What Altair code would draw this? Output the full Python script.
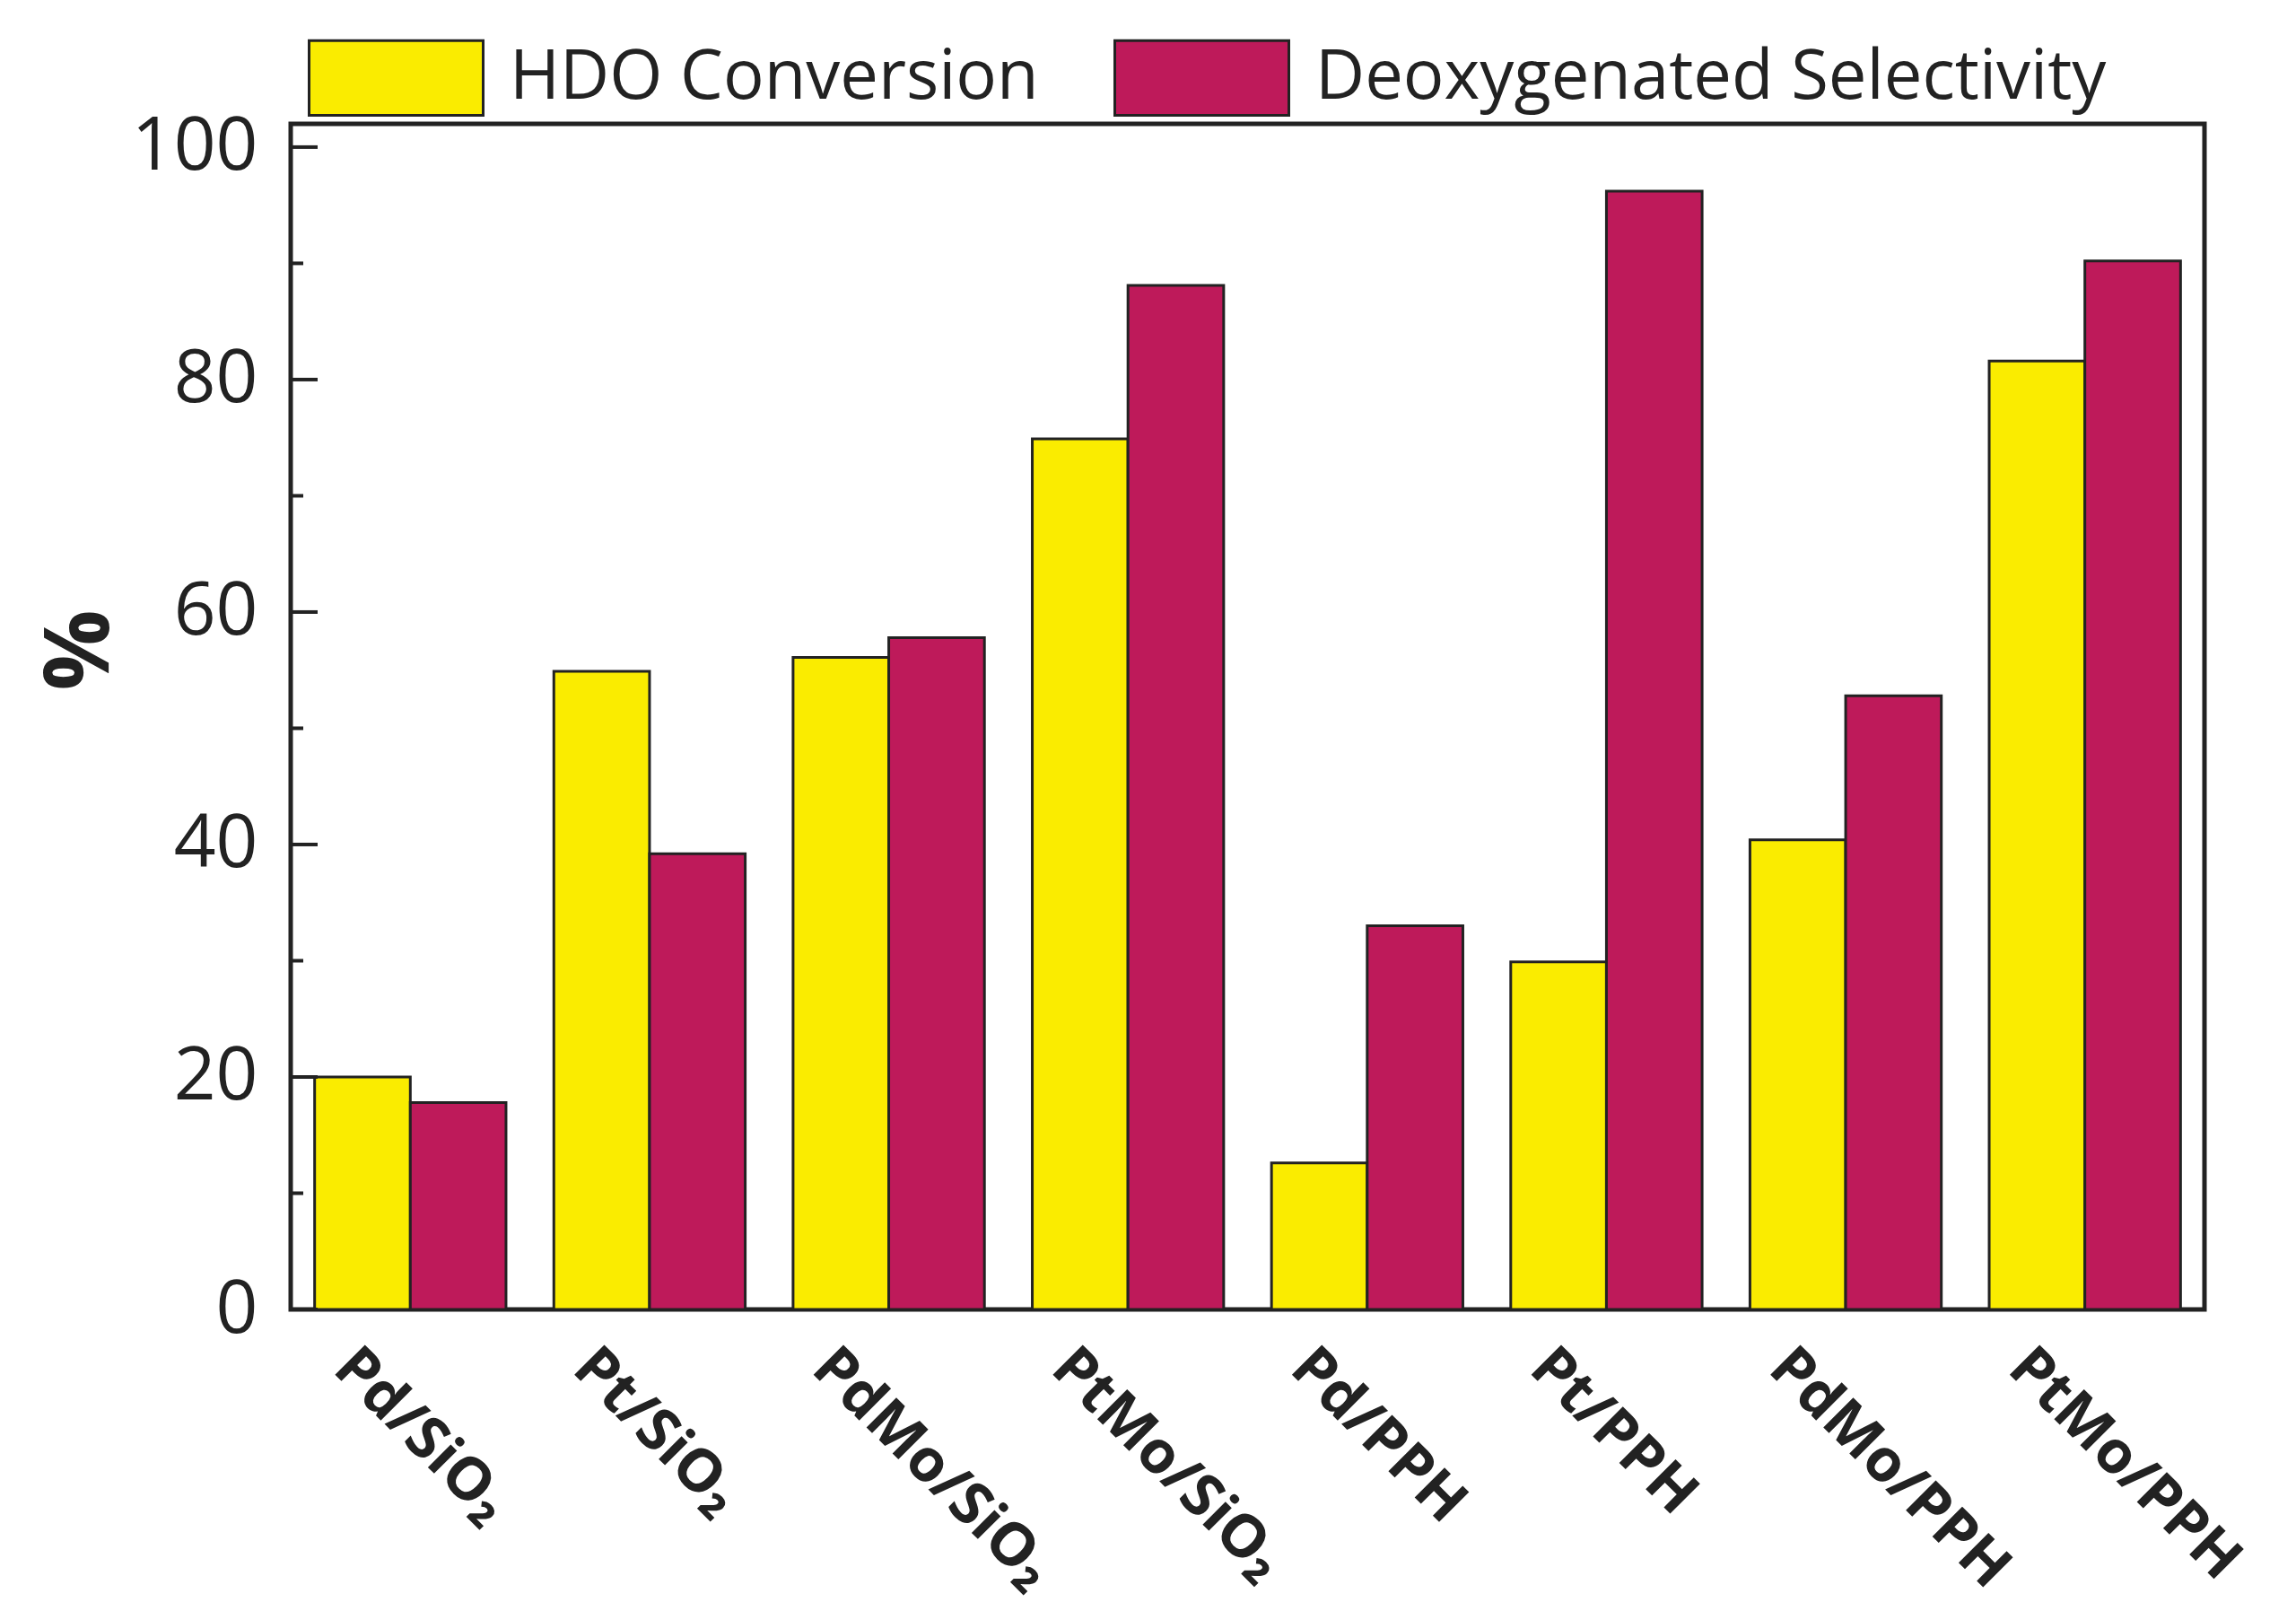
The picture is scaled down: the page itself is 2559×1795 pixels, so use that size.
import altair as alt
import pandas as pd

# values
catalysts = ["Pd/SiO₂", "Pt/SiO₂", "PdMo/SiO₂", "PtMo/SiO₂",
             "Pd/PPH", "Pt/PPH", "PdMo/PPH", "PtMo/PPH"]
hdo_conversion = [20.0, 54.9, 56.1, 74.9, 12.6, 29.9, 40.4, 81.6]
deoxy_selectivity = [17.8, 39.2, 57.8, 88.1, 33.0, 96.2, 52.8, 90.2]

series_names = ["HDO Conversion", "Deoxygenated Selectivity"]
series_colors = ["#FAEC00", "#BE1A5A"]

major_ticks = [0, 20, 40, 60, 80, 100]
minor_ticks = [10, 30, 50, 70, 90]

FONT = "Open Sans"
INK = "#222222"

df = pd.DataFrame(
    [{"catalyst": c, "series": series_names[0], "value": v} for c, v in zip(catalysts, hdo_conversion)]
    + [{"catalyst": c, "series": series_names[1], "value": v} for c, v in zip(catalysts, deoxy_selectivity)]
)

y_scale = alt.Scale(domain=[0, 102], nice=False, zero=True)

y_axis = alt.Axis(
    values=major_ticks, title="%", domain=False, ticks=False, tickSize=0,
    grid=False, labelPadding=37, labelFont=FONT, labelFontSize=82,
    labelColor=INK,
    titleFont=FONT, titleFontWeight="bold", titleFontSize=100,
    titleColor=INK, titleAngle=-90, titleAlign="center",
    titleBaseline="middle", titleX=-234, titleY=586,
)

bars = alt.Chart(df).mark_bar(stroke=INK, strokeWidth=3).encode(
    x=alt.X(
        "catalyst:N",
        sort=catalysts,
        scale=alt.Scale(paddingInner=0.2, paddingOuter=0.1),
        axis=alt.Axis(
            title=None, domain=False, ticks=False, tickSize=0, grid=False,
            labelAngle=45, labelAlign="left", labelBaseline="alphabetic",
            labelPadding=68, labelOffset=-88,
            labelFont=FONT, labelFontWeight="bold", labelFontSize=66,
            labelColor=INK, labelOverlap=False, labelLimit=0,
        ),
    ),
    xOffset=alt.XOffset("series:N", sort=series_names,
                        scale=alt.Scale(paddingInner=0, paddingOuter=0)),
    y=alt.Y("value:Q", scale=y_scale, axis=y_axis),
    color=alt.Color(
        "series:N",
        sort=series_names,
        scale=alt.Scale(domain=series_names, range=series_colors),
        legend=alt.Legend(
            title=None, orient="none", direction="horizontal",
            legendX=19, legendY=-150, padding=0,
            symbolType="M-1,-0.43H1V0.43H-1Z", symbolSize=37636,
            symbolStrokeColor=INK, symbolStrokeWidth=3, symbolOpacity=1,
            labelFont=FONT, labelFontSize=76, labelColor=INK,
            labelOffset=28, columnPadding=78, labelLimit=0,
        ),
    ),
)

# inward-pointing y ticks, as in the original figure
major = alt.Chart(pd.DataFrame({"value": major_ticks})).mark_rule(
    color=INK, strokeWidth=4
).encode(y=alt.Y("value:Q", scale=y_scale), x=alt.value(0), x2=alt.value(30))

minor = alt.Chart(pd.DataFrame({"value": minor_ticks})).mark_rule(
    color=INK, strokeWidth=4
).encode(y=alt.Y("value:Q", scale=y_scale), x=alt.value(0), x2=alt.value(14))

chart = alt.layer(bars, major, minor).properties(
    width=2133,
    height=1321,
    padding={"left": 316, "top": 130, "right": 90, "bottom": 332},
    autosize=alt.AutoSizeParams(type="none"),
    background="white",
).configure_view(
    stroke=INK, strokeWidth=5, fill="white"
)

chart.save("out.html", embed_options={"renderer": "svg", "actions": False})
